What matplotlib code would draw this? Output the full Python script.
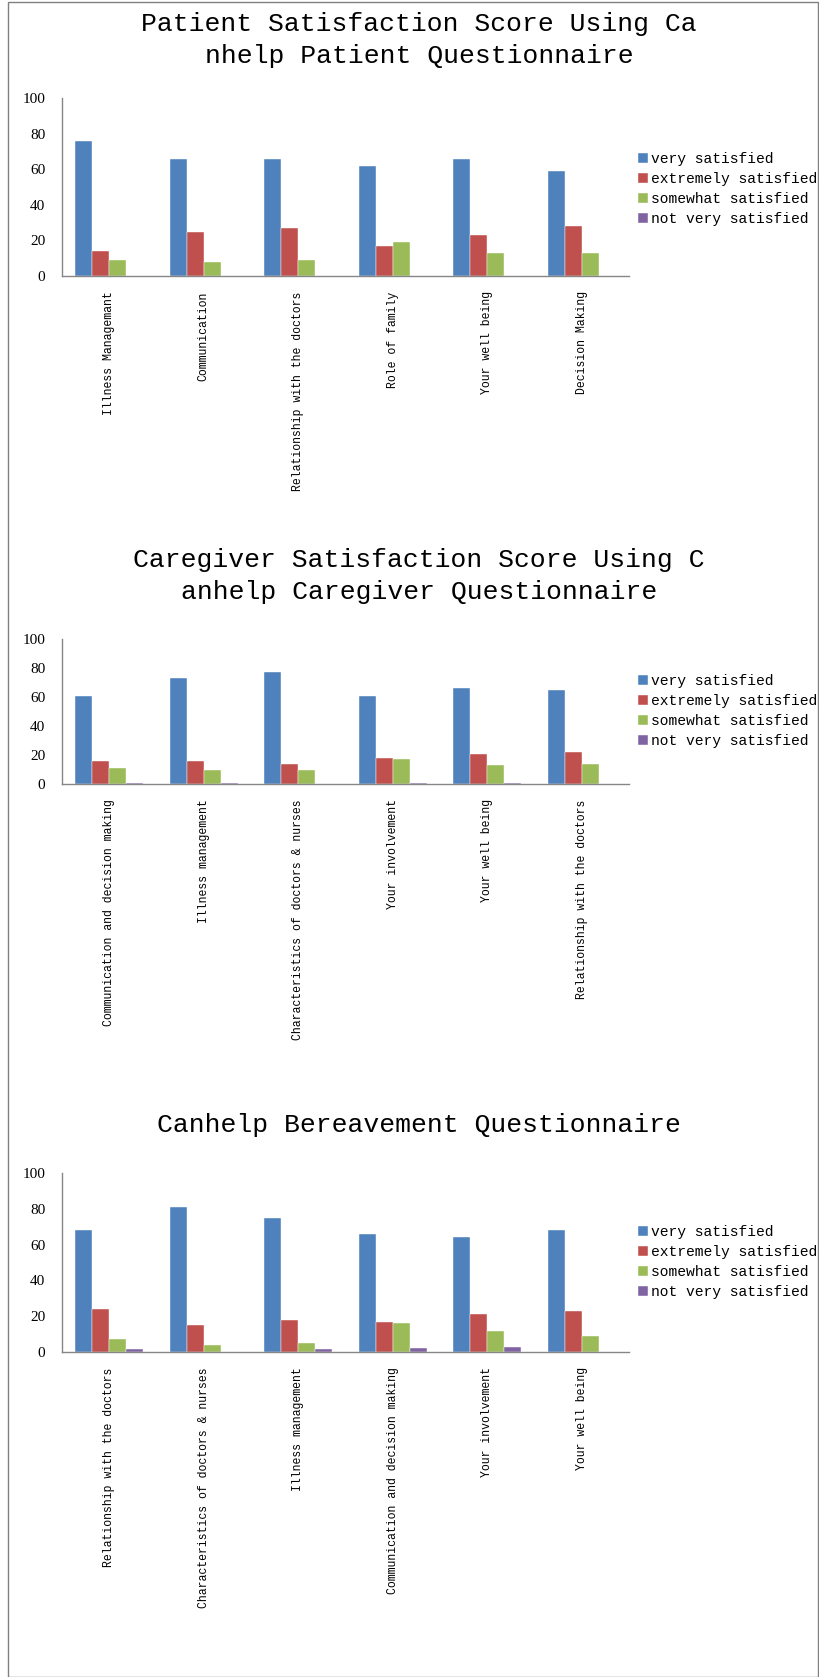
import matplotlib
matplotlib.use("Agg")
import matplotlib.pyplot as plt
import numpy as np
from matplotlib.patches import Rectangle

# series names / colours
series = ["very satisfied", "extremely satisfied", "somewhat satisfied", "not very satisfied"]
colors = ["#4F81BD", "#C0504D", "#9BBB59", "#8064A2"]

# patient questionnaire
title1 = "Patient Satisfaction Score Using Ca\nnhelp Patient Questionnaire"
cats1 = ["Illness Managemant", "Communication", "Relationship with the doctors",
         "Role of family", "Your well being", "Decision Making"]
very1 = [76, 66, 66, 62, 66, 59]
extr1 = [14, 25, 27, 17, 23, 28]
some1 = [9, 8, 9, 19, 13, 13]
notv1 = [0, 0, 0, 0, 0, 0]

# caregiver questionnaire
title2 = "Caregiver Satisfaction Score Using C\nanhelp Caregiver Questionnaire"
cats2 = ["Communication and decision making", "Illness management",
         "Characteristics of doctors & nurses", "Your involvement",
         "Your well being", "Relationship with the doctors"]
very2 = [61, 73, 77, 61, 66, 65]
extr2 = [16, 16, 14, 18, 21, 22]
some2 = [11, 10, 10, 17, 13, 14]
notv2 = [1, 1, 0, 1, 1, 0]

# bereavement questionnaire
title3 = "Canhelp Bereavement Questionnaire"
cats3 = ["Relationship with the doctors", "Characteristics of doctors & nurses",
         "Illness management", "Communication and decision making",
         "Your involvement", "Your well being"]
very3 = [68, 81, 75, 66, 64, 68]
extr3 = [24, 15, 18, 17, 21, 23]
some3 = [7, 4, 5, 16, 12, 9]
notv3 = [1.5, 0, 1.5, 2, 3, 0]

W, H = 820, 1677
fig = plt.figure(figsize=(W / 100, H / 100), dpi=100)
fig.patch.set_facecolor("white")
fig.add_artist(Rectangle((8 / W, 0), (W - 10) / W, 1 - 2 / H, transform=fig.transFigure,
                         fill=False, edgecolor="#808080", lw=1))

mono = "Liberation Mono"

# (axes top px, axes bottom px, title centre px, legend top px)
panels = [
    (title1, cats1, [very1, extr1, some1, notv1], 98, 276, 40, 152),
    (title2, cats2, [very2, extr2, some2, notv2], 639, 784, 576, 674),
    (title3, cats3, [very3, extr3, some3, notv3], 1173, 1352, 1125, 1225),
]

x_left, x_right = 62, 629
bw = 0.18
for title, cats, vals, top, bot, ty, ly in panels:
    ax = fig.add_axes([x_left / W, 1 - bot / H, (x_right - x_left) / W, (bot - top) / H])
    x = np.arange(len(cats))
    for i, (name, v) in enumerate(zip(series, vals)):
        ax.bar(x + (i - 1.5) * bw, v, bw, color=colors[i], label=name,
               edgecolor="white", linewidth=0.3)
    ax.set_xlim(-0.5, len(cats) - 0.5)
    ax.set_ylim(0, 100)
    ax.set_yticks(range(0, 101, 20))
    ax.set_xticks(x)
    ax.set_xticklabels(cats, rotation=90, va="top", ha="center", family=mono, fontsize=8.3)
    for lab in ax.get_yticklabels():
        lab.set_family("Liberation Serif")
        lab.set_fontsize(11)
    ax.tick_params(axis="both", length=0)
    ax.tick_params(axis="x", pad=11)
    ax.tick_params(axis="y", pad=12)
    for s in ["top", "right"]:
        ax.spines[s].set_visible(False)
    for s in ["left", "bottom"]:
        ax.spines[s].set_color("#868686")
        ax.spines[s].set_linewidth(1)
    fig.text(419 / W, 1 - ty / H, title, ha="center", va="center", family=mono,
             fontsize=19, linespacing=1.4)
    ax.legend(loc="upper left", bbox_to_anchor=(638 / W, 1 - ly / H),
              bbox_transform=fig.transFigure, frameon=False, borderpad=0,
              borderaxespad=0, handlelength=0.7, handleheight=0.7,
              handletextpad=0.2, labelspacing=0.42, prop={"family": mono, "size": 10.5})

fig.savefig("out.png", dpi=100)
